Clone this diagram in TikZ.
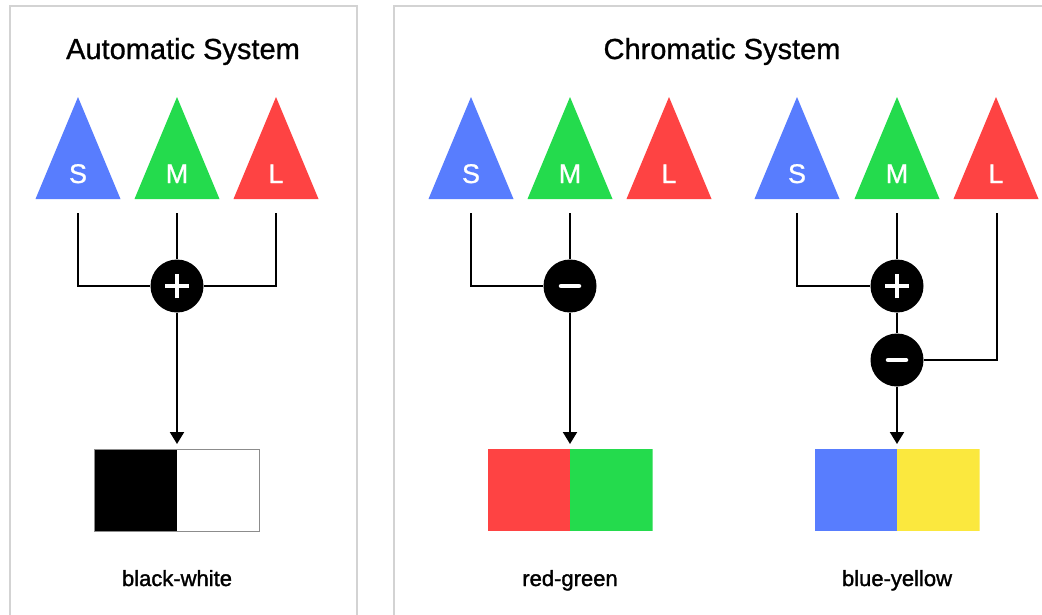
\documentclass[tikz,border=0pt]{standalone}
\usepackage{fontspec}
\setmainfont{Liberation Sans}
\newfontfamily\medfont{Liberation Sans}[FakeBold=0.9]
\newfontfamily\semifont{Liberation Sans}[FakeBold=1.4]
\usetikzlibrary{arrows.meta}
\definecolor{cblue}{HTML}{587DFE}
\definecolor{cgreen}{HTML}{24DB4D}
\definecolor{cred}{HTML}{FE4343}
\definecolor{cyellow}{HTML}{FBE83E}
\definecolor{panelgrey}{HTML}{D3D3D3}
\newcommand\conetri[4]{% x, colour, letter, name
  \fill[#2] (#1,97) -- (#1+42.5,199) -- (#1-42.5,199) -- cycle;
  \node[conelabel] (#4) at (#1,183) {#3};
}
\begin{document}
\begin{tikzpicture}[x=1pt,y=-1pt,
  panel/.style={draw=panelgrey, line width=1.3pt},
  title/.style={font=\medfont\fontsize{29}{34}\selectfont, anchor=base, inner sep=0pt},
  conelabel/.style={font=\medfont\fontsize{27}{32}\selectfont, text=white, anchor=base, inner sep=0pt},
  caption/.style={font=\semifont\fontsize{22}{28}\selectfont, anchor=base, inner sep=0pt},
  conn/.style={draw=black, line width=2pt},
  arr/.style={conn, -{Triangle[width=14pt,length=12pt]}, shorten >=5pt},
  op/.style={circle, fill=black, minimum size=53pt, inner sep=0pt},
  sign/.style={white, line width=3.5pt},
  halfbox/.style={minimum width=165pt, minimum height=82pt, inner sep=0pt, anchor=north}
]
\useasboundingbox (0,0) rectangle (1042,614);
\clip (0,0) rectangle (1042,614);
\fill[white] (0,0) rectangle (1042,614);

% panels
\draw[panel] (10,6) rectangle (357,640);
\draw[panel] (394,6) rectangle (1060,640);

% titles
\node[title] (t1) at (183,59) {Automatic System};
\node[title] (t2) at (722,59) {Chromatic System};

% cones
\conetri{78}{cblue}{S}{aS}
\conetri{177}{cgreen}{M}{aM}
\conetri{276}{cred}{L}{aL}
\conetri{471}{cblue}{S}{bS}
\conetri{570}{cgreen}{M}{bM}
\conetri{669}{cred}{L}{bL}
\conetri{797}{cblue}{S}{cS}
\conetri{897}{cgreen}{M}{cM}
\conetri{996}{cred}{L}{cL}

% connector start points
\coordinate (aSo) at (78,213);
\coordinate (aMo) at (177,213);
\coordinate (aLo) at (276,213);
\coordinate (bSo) at (471,213);
\coordinate (bMo) at (570,213);
\coordinate (cSo) at (797,213);
\coordinate (cMo) at (897,213);
\coordinate (cLo) at (997,213);

% operators
\node[op] (plusA) at (177,286) {};
\node[op] (minusB) at (570,286) {};
\node[op] (plusC) at (897,286) {};
\node[op] (minusC) at (897,360) {};

% output boxes
\node[halfbox, draw=black!45, line width=1pt,
  path picture={\fill[black] (path picture bounding box.north west) rectangle (path picture bounding box.south);}]
  (bw) at (177,449) {};
\node[halfbox,
  path picture={\fill[cred] (path picture bounding box.north west) rectangle (path picture bounding box.south);
                \fill[cgreen] (path picture bounding box.north east) rectangle (path picture bounding box.south);}]
  (rg) at (570,449) {};
\node[halfbox,
  path picture={\fill[cblue] (path picture bounding box.north west) rectangle (path picture bounding box.south);
                \fill[cyellow] (path picture bounding box.north east) rectangle (path picture bounding box.south);}]
  (by) at (897,449) {};

% captions
\node[caption] (c1) at (177,586) {black-white};
\node[caption] (c2) at (570,586) {red-green};
\node[caption] (c3) at (897,586) {blue-yellow};

% connectors: automatic
\draw[conn] (aSo) |- (plusA);
\draw[conn] (aMo) -- (plusA);
\draw[conn] (aLo) |- (plusA);
\draw[arr] (plusA) -- (bw.north);

% connectors: red-green
\draw[conn] (bSo) |- (minusB);
\draw[conn] (bMo) -- (minusB);
\draw[arr] (minusB) -- (rg.north);

% connectors: blue-yellow
\draw[conn] (cSo) |- (plusC);
\draw[conn] (cMo) -- (plusC);
\draw[conn] (plusC) -- (minusC);
\draw[conn] (cLo) |- (minusC);
\draw[arr] (minusC) -- (by.north);

% signs
\foreach \n in {plusA, plusC} {
  \draw[sign] ([xshift=-12pt]\n.center) -- ([xshift=12pt]\n.center);
  \draw[sign] ([yshift=-12pt]\n.center) -- ([yshift=12pt]\n.center);
}
\foreach \n in {minusB, minusC} {
  \draw[sign, line width=4.5pt, line cap=round] ([xshift=-9pt]\n.center) -- ([xshift=9pt]\n.center);
}
\end{tikzpicture}
\end{document}
